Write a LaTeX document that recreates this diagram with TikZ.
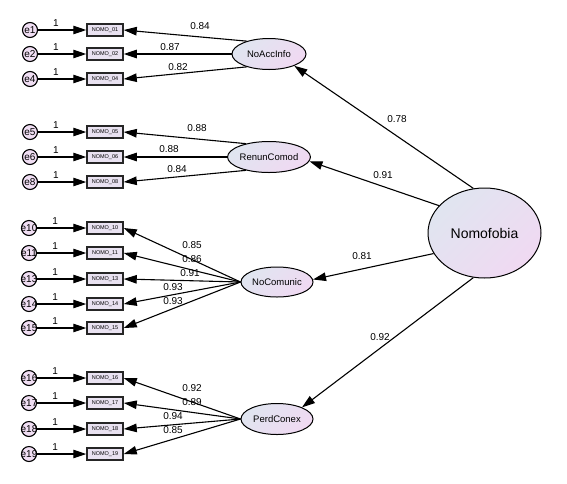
\documentclass[tikz,border=0pt]{standalone}
\usepackage{fontspec}
\setmainfont{Liberation Sans}
\usetikzlibrary{arrows.meta,shapes.geometric}
\definecolor{efill}{HTML}{F0DEF3}
\definecolor{bfill}{HTML}{E9E2F1}
\definecolor{lvA}{HTML}{E0E5F0}
\definecolor{lvB}{HTML}{F0D9F2}
\tikzset{
  errc/.style={circle, draw, line width=1.1pt, fill=efill, minimum size=15pt, inner sep=0pt},
  etext/.style={font=\fontsize{10}{10}\selectfont, inner sep=0pt},
  obs/.style={rectangle, draw=black!85, line width=1.5pt, fill=bfill, minimum width=36pt, minimum height=12pt, inner sep=0pt, font=\fontsize{5.5}{5.5}\selectfont},
  lat/.style={ellipse, draw, line width=1pt, top color=lvA, bottom color=lvB, shading angle=45, inner sep=0pt, font=\fontsize{9.5}{9.5}\selectfont},
  conn/.style={line width=1.1pt, -{Triangle[length=13pt,width=8.5pt]}},
  lab/.style={font=\fontsize{10}{10}\selectfont, inner sep=0pt}
}
\begin{document}
\begin{tikzpicture}[x=1pt,y=-1pt]
\useasboundingbox (0,0) rectangle (567,483);
% latent variables
\node[lat, minimum width=74pt, minimum height=31pt] (acc) at (269,54) {NoAccInfo};
\node[lat, minimum width=74pt, minimum height=31pt] (ren) at (269,157) {RenunComod};
\node[lat, minimum width=72pt, minimum height=30pt] (com) at (277,282) {NoComunic};
\node[lat, minimum width=72pt, minimum height=31pt] (per) at (277,419) {PerdConex};
\node[lat, minimum width=113pt, minimum height=90pt, font=\fontsize{14}{14}\selectfont] (nom) at (484.5,233) {Nomofobia};
% observed + errors
\foreach \n/\ex/\y in {01/1/30,02/2/54,04/4/79,05/5/132,06/6/157,08/8/182}{
  \node[obs] (b\n) at (105,\y) {NOMO\_\n};
  \node[errc] (e\ex) at (30,\y) {};
  \draw[conn] (e\ex) -- (b\n) node[lab, pos=0.37, above=3pt] (one\n) {1};
  \node[etext] (te\ex) at (e\ex) {e\ex};
}
\foreach \n/\y in {10/228,11/253,13/279,14/304,15/328,16/378,17/403,18/429,19/454}{
  \node[obs] (b\n) at (105,\y) {NOMO\_\n};
  \node[errc] (e\n) at (29,\y) {};
  \draw[conn] (e\n) -- (b\n) node[lab, pos=0.37, above=3pt] (one\n) {1};
  \node[etext] (te\n) at (e\n) {e\n};
}
% loadings
\draw[conn] (acc.150) -- (b01.east);
\draw[conn] (acc.west) -- (b02.east);
\draw[conn] (acc.210) -- (b04.east);
\draw[conn] (ren.150) -- (b05.east);
\draw[conn] (ren.west) -- (b06.east);
\draw[conn] (ren.210) -- (b08.east);
\foreach \n in {10,11,13,14,15}{\draw[conn] (com.west) -- (b\n.east);}
\foreach \n in {16,17,18,19}{\draw[conn] (per.west) -- (b\n.east);}
% structural
\draw[conn] (nom.104) -- (acc.-25);
\draw[conn] (nom.149) -- (ren.-6);
\draw[conn] (nom.202) -- (com.4);
\draw[conn] (nom.256) -- (per.25);
% labels
\node[lab] (l01) at (200,26) {0.84};
\node[lab] (l02) at (170,47) {0.87};
\node[lab] (l04) at (178,67) {0.82};
\node[lab] (l05) at (197,128) {0.88};
\node[lab] (l06) at (169,149) {0.88};
\node[lab] (l08) at (177,169) {0.84};
\node[lab] (l10) at (192,245) {0.85};
\node[lab] (l11) at (192,259) {0.86};
\node[lab] (l13) at (190,273) {0.91};
\node[lab] (l14) at (173,287) {0.93};
\node[lab] (l15) at (173,301) {0.93};
\node[lab] (l16) at (192,388) {0.92};
\node[lab] (l17) at (192,402) {0.89};
\node[lab] (l18) at (173,416) {0.94};
\node[lab] (l19) at (173,430) {0.85};
\node[lab] (sacc) at (397,119) {0.78};
\node[lab] (sren) at (383,175) {0.91};
\node[lab] (scom) at (362,256) {0.81};
\node[lab] (sper) at (380,337) {0.92};
\end{tikzpicture}
\end{document}
